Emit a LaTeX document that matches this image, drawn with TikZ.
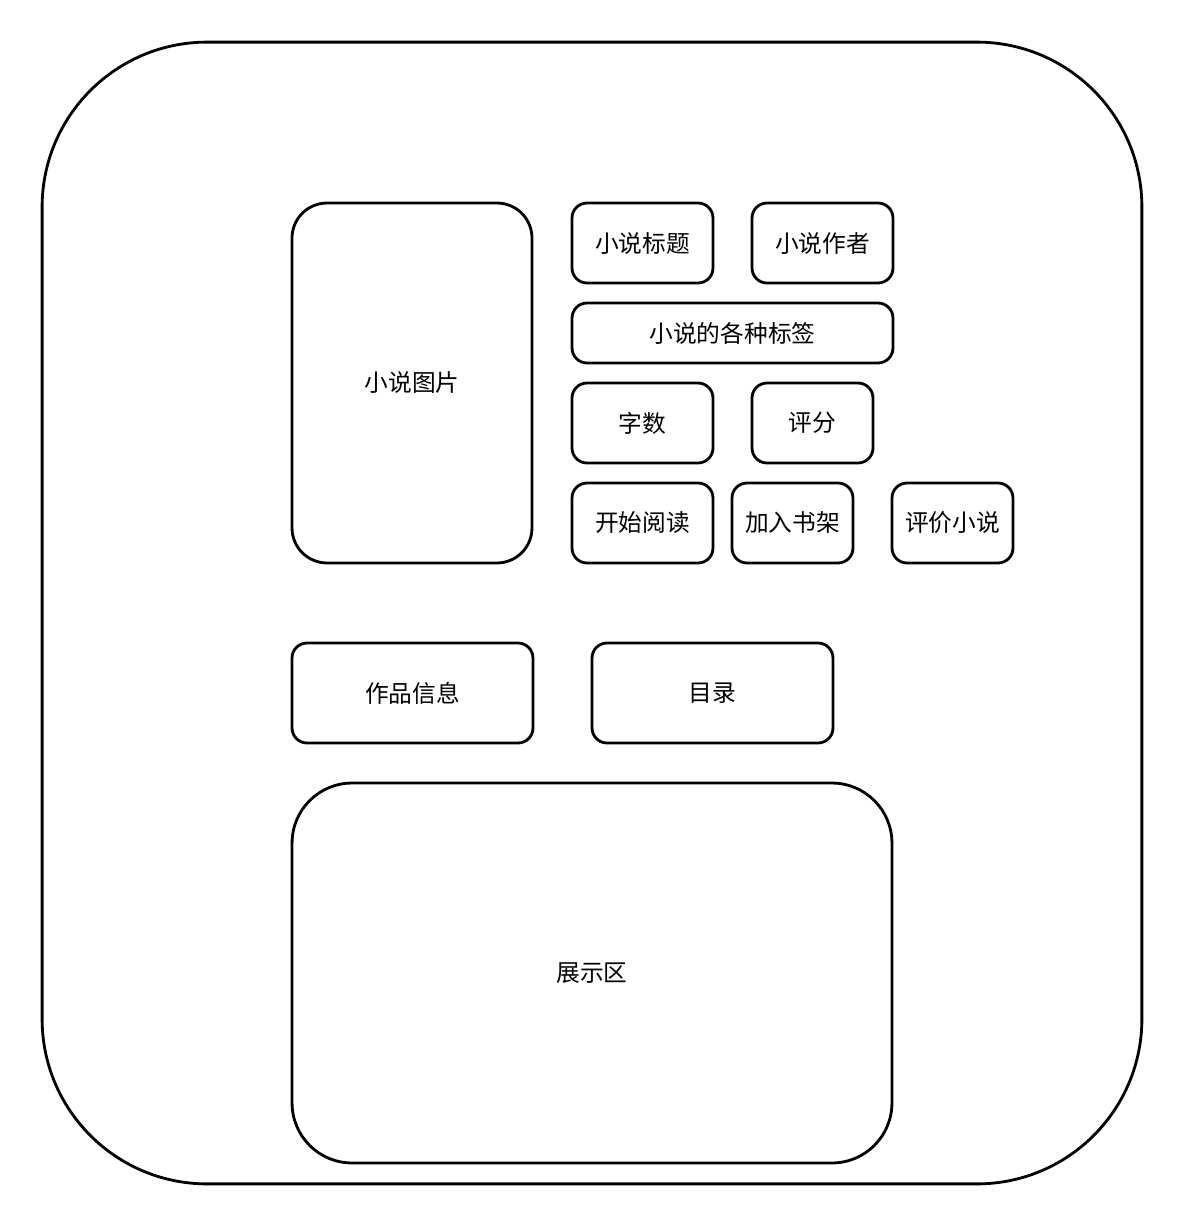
\documentclass[tikz,border=0pt]{standalone}
\usepackage{fontspec}
\setmainfont{Noto Sans CJK SC}
\usepackage{tikz}
\usetikzlibrary{positioning}

\begin{document}
\begin{tikzpicture}[
  x=0.02cm, y=-0.02cm,
  every node/.style={font=\fontsize{13.5}{16}\selectfont},
  card/.style={draw, line width=1.6pt, rounded corners=0.3cm, align=center,
    inner sep=0pt},
  bigcard/.style={card, rounded corners=0.7cm},
  frame/.style={draw, line width=1.6pt, rounded corners=3.3cm, inner sep=0pt}
]
\useasboundingbox (0,0) rectangle (1184,1224);
% outer screen
\node[frame, minimum width=22cm, minimum height=22.84cm] (screen) at (592,613) {};
% cover and info cards
\node[bigcard, minimum width=4.8cm, minimum height=7.2cm] (cover) at (412,383) {小说图片};
\node[card, minimum width=2.82cm, minimum height=1.6cm] (title) at (642.5,243) {小说标题};
\node[card, minimum width=2.82cm, minimum height=1.6cm] (author) at (822.5,243) {小说作者};
\node[card, minimum width=6.42cm, minimum height=1.2cm] (tags) at (732.5,333) {小说的各种标签};
\node[card, minimum width=2.82cm, minimum height=1.6cm] (words) at (642.5,423) {字数};
\node[card, minimum width=2.42cm, minimum height=1.6cm] (score) at (812.5,423) {评分};
\node[card, minimum width=2.82cm, minimum height=1.6cm] (read) at (642.5,523) {开始阅读};
\node[card, minimum width=2.42cm, minimum height=1.6cm] (shelf) at (792.5,523) {加入书架};
\node[card, minimum width=2.42cm, minimum height=1.6cm] (review) at (952.5,523) {评价小说};
% tabs
\node[card, minimum width=4.82cm, minimum height=2cm] (info) at (412.5,693) {作品信息};
\node[card, minimum width=4.82cm, minimum height=2cm] (toc) at (712.5,693) {目录};
% display area
\node[card, rounded corners=1.2cm, minimum width=12cm, minimum height=7.6cm] (show) at (592,973) {展示区};
\end{tikzpicture}
\end{document}
